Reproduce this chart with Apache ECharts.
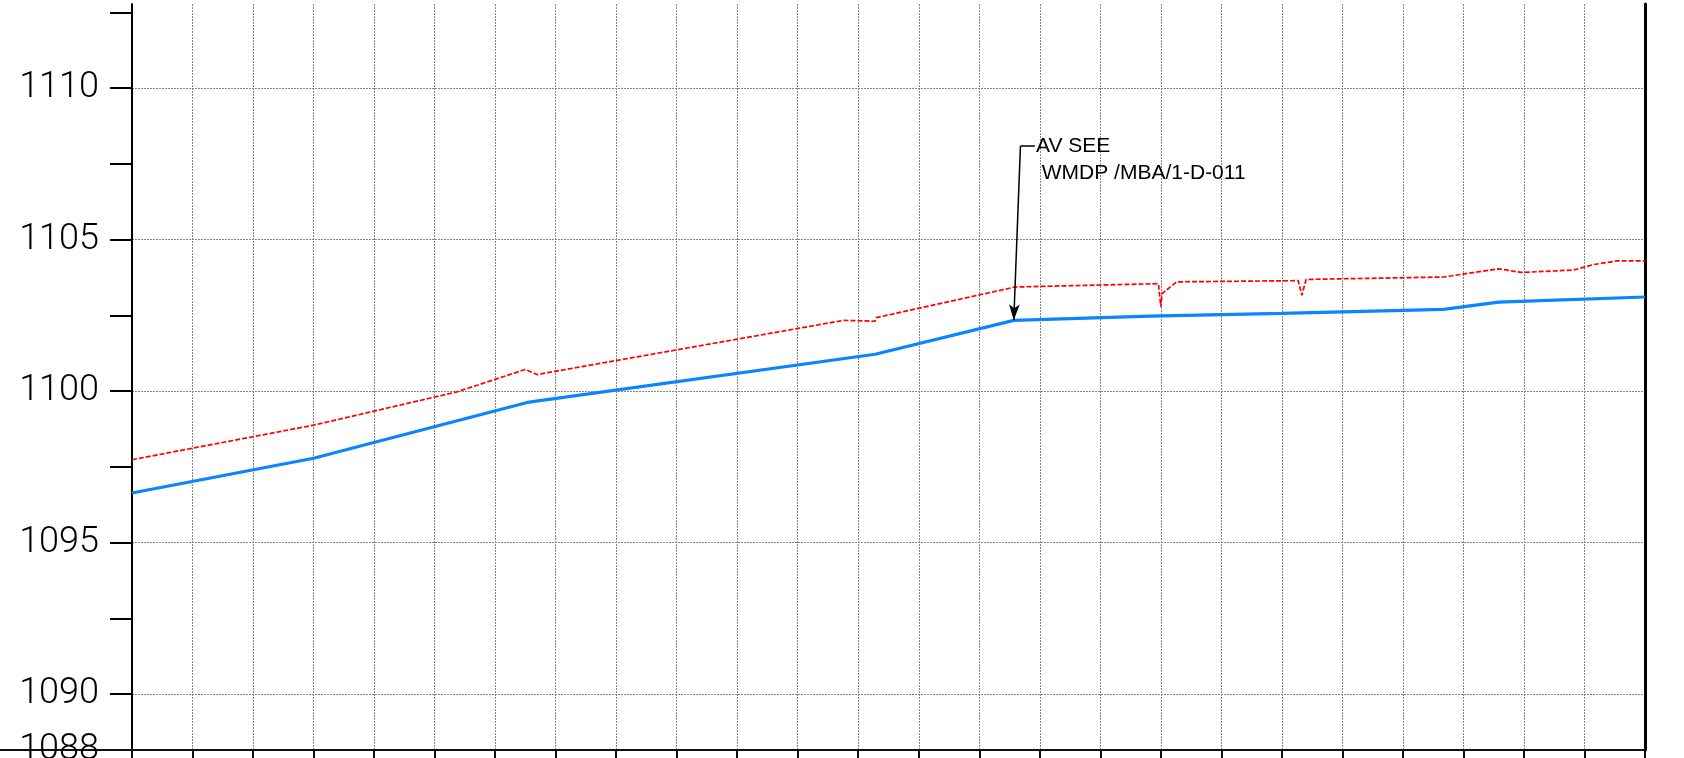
<!DOCTYPE html>
<html><head><meta charset="utf-8">
<script src="https://cdn.jsdelivr.net/npm/echarts@6/dist/echarts.min.js"></script>
<style>html,body{margin:0;padding:0;background:#fff}#c{width:1684px;height:758px}</style>
</head><body><div id="c"></div>
<script>
// ---- data (station in grid units, elevation) ----
const blueX = [0, 3.0, 6.53, 12.28, 14.57, 16.82, 19.0, 21.67, 22.58, 25];
const blueY = [1096.64, 1097.79, 1099.63, 1101.22, 1102.34, 1102.48, 1102.57, 1102.70, 1102.94, 1103.11];

const redX = [0, 3.0, 5.37, 6.50, 6.69, 11.76, 12.28, 12.30, 14.59, 16.96, 17.00, 17.02, 17.26, 19.27, 19.33, 19.40, 21.67, 22.58, 22.96, 23.82, 24.15, 24.53, 25];
const redY = [1097.74, 1098.88, 1099.98, 1100.72, 1100.55, 1102.34, 1102.31, 1102.43, 1103.44, 1103.55, 1102.78, 1103.22, 1103.61, 1103.65, 1103.17, 1103.69, 1103.77, 1104.04, 1103.92, 1104.00, 1104.18, 1104.30, 1104.30];

const yMin = 1088.16, yMax = 1112.78;
const xMin = 0, xMax = 25;
const yTickValues = [1090, 1092.5, 1095, 1097.5, 1100, 1102.5, 1105, 1107.5, 1110, 1112.5];
const yGridValues = [1090, 1095, 1100, 1105, 1110];
const yLabelValues = [1088.16, 1090, 1095, 1100, 1105, 1110];
const yLabelTexts = ['1088', '1090', '1095', '1100', '1105', '1110'];

const noteText = ['AV SEE', ' WMDP /MBA/1-D-011'];
const noteCorner = [14.68, 1108.09];
const noteEnd = [14.92, 1108.09];
const noteTarget = [14.57, 1102.34];

const zip = (xs, ys) => xs.map((x, i) => [x, ys[i]]);

const chart = echarts.init(document.getElementById('c'), null, {renderer: 'canvas'});
const grid = '#858585';
chart.setOption({
  animation: false,
  backgroundColor: '#fff',
  textStyle: {fontFamily: 'Roboto'},
  grid: [
    {left: 132, right: 39, top: 4, bottom: 8, outerBoundsMode: 'none', containLabel: false},
    {left: 0, width: 132, top: 4, bottom: 8, outerBoundsMode: 'none', containLabel: false}
  ],
  xAxis: [
    {type: 'value', gridIndex: 0, min: xMin, max: xMax, interval: 1,
     axisLine: {show: true, onZero: false, lineStyle: {color: '#111', width: 2}},
     axisTick: {show: true, inside: false, length: 9, lineStyle: {color: '#111', width: 2}},
     axisLabel: {show: false},
     splitLine: {show: true, lineStyle: {color: grid, width: 1, type: [2, 1]}}},
    {type: 'value', gridIndex: 1, min: 0, max: 1,
     axisLine: {show: true, onZero: false, lineStyle: {color: '#111', width: 2}},
     axisTick: {show: false}, axisLabel: {show: false}, splitLine: {show: false}}
  ],
  yAxis: [
    {type: 'value', gridIndex: 0, position: 'left', min: yMin, max: yMax,
     axisLine: {show: true, onZero: false, lineStyle: {color: '#000', width: 2}},
     axisTick: {show: true, inside: false, length: 22, customValues: yTickValues, lineStyle: {color: '#000', width: 2}},
     axisLabel: {show: true, margin: 33, customValues: yLabelValues, color: '#000',
       fontFamily: 'Roboto', fontWeight: 300, fontSize: 36, padding: [0, 0, 12, 0],
       formatter: v => { const i = yLabelValues.findIndex(t => Math.abs(t - v) < 1e-6); return i >= 0 ? yLabelTexts[i] : ''; }},
     splitLine: {show: false}},
    {type: 'value', gridIndex: 0, position: 'left', min: yMin, max: yMax,
     axisLine: {show: false},
     axisTick: {show: false, customValues: yGridValues},
     axisLabel: {show: false},
     splitLine: {show: true, lineStyle: {color: grid, width: 1, type: [2, 1]}}},
    {type: 'value', gridIndex: 0, position: 'right', min: yMin, max: yMax,
     axisLine: {show: true, onZero: false, lineStyle: {color: '#000', width: 3}},
     axisTick: {show: false}, axisLabel: {show: false}, splitLine: {show: false}},
    {type: 'value', gridIndex: 1, min: 0, max: 1, show: false}
  ],
  series: [
    {type: 'line', xAxisIndex: 0, yAxisIndex: 0, data: zip(redX, redY), symbol: 'none', silent: true,
     lineStyle: {color: '#ff0000', width: 1.7, type: [5, 2]}},
    {type: 'line', xAxisIndex: 0, yAxisIndex: 0, data: zip(blueX, blueY), symbol: 'none', silent: true,
     lineStyle: {color: '#0a84ff', width: 3.2},
     markLine: {
       silent: true, animation: false,
       lineStyle: {color: '#000', width: 1.5, type: 'solid'},
       data: [
         [{coord: noteCorner, symbol: 'none'}, {coord: noteTarget, symbol: 'arrow', symbolSize: [8, 16]}],
         [{coord: noteCorner, symbol: 'none'}, {coord: noteEnd, symbol: 'none',
           label: {show: true, position: 'end', distance: 1, formatter: ['', ...noteText].join('\n'),
             fontFamily: 'Liberation Sans', fontSize: 21, lineHeight: 27, color: '#000',
             align: 'left', verticalAlign: 'middle'}}]
       ],
       label: {show: false}
     }}
  ]
});
</script></body></html>
